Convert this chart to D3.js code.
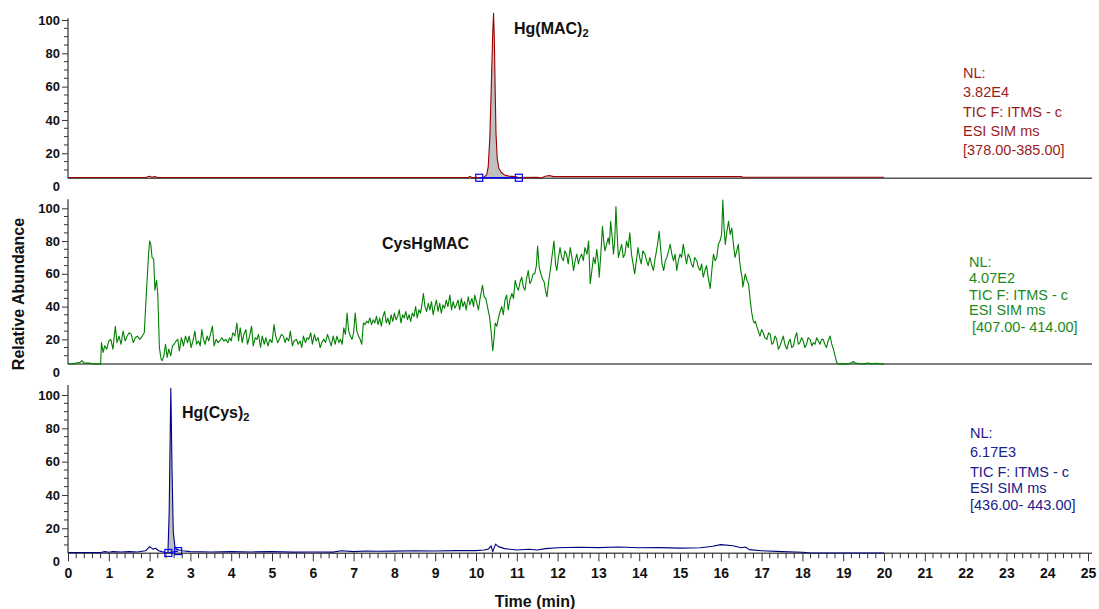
<!DOCTYPE html>
<html>
<head>
<meta charset="utf-8">
<script src="https://cdn.jsdelivr.net/npm/d3@7"></script>
<style>
  body { margin: 0; background: #fff; }
  text { font-family: "Liberation Sans", Arial, sans-serif; }
</style>
</head>
<body>
<script>
'use strict';

// time axis
const timeTicks = d3.range(0, 26);
const yTickLabels = [0, 20, 40, 60, 80, 100];

// panel 1: Hg(MAC)2, m/z 378-385  [time, relative abundance]
const hgMacTrace = [
  [0, 5.5], [1.9, 5.5], [2.0, 6.2], [2.06, 5.6], [2.12, 6.0], [2.2, 5.5], [9.8, 5.5], [9.85, 6.0],
  [9.9, 5.4], [10.0, 5.5], [10.08, 5.3], [10.2, 5.8], [10.26, 7], [10.3, 12], [10.34, 30],
  [10.38, 65], [10.41, 92], [10.43, 104], [10.45, 88], [10.47, 58], [10.49, 32], [10.52, 17],
  [10.56, 11], [10.62, 8.5], [10.7, 7], [10.8, 6.3], [10.95, 6], [11.05, 5.5], [11.5, 5.6],
  [11.6, 5.2], [11.7, 6.2], [11.8, 6.6], [11.9, 6.0], [12.0, 6.0], [16.5, 6.0], [16.55, 5.6], [20, 5.6]
];
const hgMacPeak = [[10.08, 5.3], [11.05, 5.3]];
const hgMacInfo = ["NL:", "3.82E4", "TIC F: ITMS - c", "ESI SIM ms", "[378.00-385.00]"];

// panel 2: CysHgMAC, m/z 407-414
const cysHgMacTrace = [
  [0, 5], [0.1, 5], [0.2, 5.5], [0.3, 6], [0.34, 7], [0.4, 5.5], [0.5, 5.5], [0.6, 5.2], [0.7, 5], [0.8, 5],
  [0.82, 18], [0.86, 12], [0.9, 16], [0.95, 14], [1.0, 19], [1.05, 20], [1.1, 14], [1.16, 28], [1.2, 18],
  [1.25, 22], [1.3, 17], [1.35, 25], [1.4, 19], [1.45, 22], [1.5, 24], [1.55, 23], [1.6, 18], [1.65, 21],
  [1.7, 22], [1.76, 20], [1.82, 22], [1.87, 24], [1.92, 48], [1.97, 70], [2.0, 80], [2.03, 78], [2.06, 70],
  [2.1, 69], [2.13, 50], [2.17, 56], [2.2, 48], [2.24, 15], [2.28, 8], [2.31, 7], [2.35, 10], [2.39, 17],
  [2.43, 9], [2.47, 14], [2.52, 10], [2.56, 16], [2.6, 17], [2.65, 19], [2.69, 20], [2.73, 13], [2.78, 21],
  [2.83, 16], [2.88, 22], [2.93, 18], [2.97, 22], [3.02, 15], [3.07, 20], [3.11, 25], [3.15, 17], [3.2, 19],
  [3.24, 16], [3.28, 26], [3.32, 20], [3.36, 17], [3.41, 22], [3.45, 19], [3.5, 24], [3.54, 28], [3.58, 16],
  [3.63, 20], [3.68, 18], [3.72, 19], [3.77, 21], [3.82, 19], [3.87, 20], [3.92, 18], [3.96, 21], [4.0, 19],
  [4.04, 24], [4.09, 22], [4.14, 30], [4.18, 19], [4.22, 27], [4.27, 18], [4.31, 23], [4.36, 26], [4.4, 17],
  [4.45, 22], [4.5, 28], [4.54, 16], [4.59, 21], [4.63, 20], [4.67, 23], [4.72, 15], [4.76, 22], [4.81, 17],
  [4.85, 21], [4.9, 16], [4.95, 20], [5.0, 18], [5.05, 29], [5.09, 22], [5.14, 18], [5.18, 20], [5.23, 23],
  [5.28, 22], [5.32, 18], [5.36, 21], [5.41, 19], [5.45, 25], [5.5, 16], [5.54, 19], [5.6, 20], [5.64, 17],
  [5.69, 19], [5.73, 15], [5.77, 22], [5.82, 18], [5.86, 21], [5.9, 20], [5.95, 24], [5.99, 17], [6.04, 23],
  [6.08, 19], [6.13, 21], [6.18, 15], [6.22, 18], [6.27, 20], [6.31, 18], [6.36, 23], [6.4, 20], [6.45, 16],
  [6.5, 22], [6.55, 17], [6.59, 22], [6.64, 18], [6.68, 20], [6.72, 17], [6.76, 27], [6.8, 23], [6.84, 36],
  [6.88, 25], [6.92, 22], [6.96, 20], [7.0, 24], [7.04, 36], [7.08, 25], [7.12, 22], [7.16, 20], [7.2, 17],
  [7.24, 30], [7.28, 29], [7.32, 31], [7.36, 30], [7.4, 33], [7.44, 29], [7.48, 32], [7.52, 30], [7.56, 34],
  [7.6, 29], [7.64, 33], [7.68, 28], [7.72, 34], [7.76, 37], [7.8, 30], [7.84, 33], [7.88, 29], [7.92, 35],
  [7.96, 31], [8.0, 36], [8.04, 32], [8.08, 34], [8.12, 38], [8.16, 30], [8.2, 35], [8.24, 33], [8.28, 37],
  [8.32, 32], [8.36, 35], [8.4, 31], [8.44, 36], [8.48, 34], [8.52, 40], [8.56, 33], [8.6, 38], [8.64, 36],
  [8.68, 42], [8.71, 48], [8.75, 40], [8.79, 37], [8.83, 42], [8.87, 38], [8.91, 43], [8.95, 35], [8.99, 40],
  [9.03, 44], [9.07, 37], [9.11, 42], [9.15, 36], [9.19, 41], [9.23, 39], [9.27, 44], [9.31, 40], [9.36, 47],
  [9.4, 38], [9.44, 43], [9.48, 39], [9.52, 41], [9.56, 44], [9.6, 38], [9.64, 45], [9.68, 40], [9.72, 43],
  [9.76, 38], [9.81, 46], [9.85, 41], [9.9, 45], [9.94, 40], [9.97, 47], [10.02, 42], [10.06, 38], [10.1, 45],
  [10.16, 53], [10.2, 46], [10.24, 45], [10.28, 40], [10.33, 34], [10.37, 25], [10.41, 13], [10.44, 20],
  [10.47, 30], [10.51, 28], [10.55, 33], [10.59, 37], [10.63, 40], [10.67, 35], [10.71, 44], [10.75, 47],
  [10.79, 38], [10.83, 44], [10.88, 48], [10.92, 45], [10.96, 56], [11.0, 52], [11.04, 50], [11.08, 55],
  [11.12, 58], [11.16, 52], [11.2, 50], [11.24, 57], [11.28, 62], [11.32, 54], [11.36, 56], [11.4, 60],
  [11.44, 60], [11.48, 65], [11.51, 77], [11.55, 64], [11.59, 60], [11.63, 57], [11.67, 55], [11.71, 49],
  [11.74, 46], [11.78, 55], [11.82, 62], [11.86, 70], [11.91, 80], [11.95, 66], [11.98, 62], [12.02, 70],
  [12.06, 76], [12.1, 70], [12.14, 68], [12.18, 74], [12.22, 72], [12.26, 66], [12.31, 76], [12.35, 70],
  [12.39, 62], [12.43, 68], [12.47, 72], [12.51, 66], [12.55, 70], [12.59, 72], [12.63, 68], [12.67, 76],
  [12.72, 72], [12.76, 80], [12.8, 54], [12.84, 62], [12.88, 70], [12.92, 66], [12.96, 75], [13.0, 66],
  [13.02, 58], [13.06, 72], [13.1, 89], [13.13, 80], [13.16, 74], [13.2, 78], [13.24, 82], [13.27, 78],
  [13.3, 92], [13.34, 82], [13.37, 72], [13.4, 80], [13.43, 101], [13.46, 84], [13.49, 70], [13.53, 74],
  [13.57, 78], [13.61, 70], [13.65, 72], [13.69, 80], [13.73, 76], [13.77, 85], [13.81, 72], [13.85, 66],
  [13.89, 60], [13.93, 68], [13.97, 76], [14.01, 70], [14.05, 66], [14.09, 74], [14.14, 72], [14.18, 68],
  [14.22, 65], [14.26, 70], [14.3, 66], [14.35, 62], [14.38, 68], [14.41, 72], [14.45, 78], [14.49, 86],
  [14.53, 74], [14.56, 66], [14.6, 62], [14.64, 68], [14.68, 70], [14.72, 74], [14.76, 78], [14.8, 72],
  [14.84, 68], [14.88, 72], [14.92, 62], [14.96, 68], [15.0, 72], [15.04, 70], [15.08, 78], [15.12, 72],
  [15.16, 66], [15.2, 72], [15.24, 70], [15.28, 66], [15.32, 64], [15.36, 70], [15.41, 68], [15.45, 64],
  [15.49, 62], [15.53, 66], [15.57, 58], [15.61, 62], [15.65, 65], [15.69, 58], [15.74, 51], [15.78, 62],
  [15.82, 72], [15.86, 68], [15.9, 70], [15.94, 78], [15.98, 80], [16.02, 84], [16.05, 105], [16.08, 88],
  [16.11, 78], [16.15, 86], [16.19, 92], [16.23, 84], [16.27, 88], [16.31, 78], [16.35, 70], [16.39, 74],
  [16.43, 78], [16.46, 68], [16.49, 62], [16.52, 58], [16.54, 52], [16.57, 56], [16.6, 60], [16.64, 56],
  [16.68, 54], [16.72, 44], [16.76, 36], [16.79, 32], [16.82, 30], [16.85, 31], [16.88, 28], [16.92, 25],
  [16.96, 22], [17.0, 26], [17.04, 24], [17.08, 21], [17.13, 20], [17.17, 24], [17.21, 23], [17.25, 17],
  [17.29, 18], [17.33, 22], [17.37, 20], [17.41, 14], [17.45, 16], [17.49, 19], [17.53, 22], [17.57, 17],
  [17.62, 14], [17.66, 18], [17.7, 20], [17.74, 15], [17.78, 16], [17.82, 21], [17.86, 24], [17.9, 17],
  [17.94, 18], [17.98, 21], [18.02, 19], [18.06, 15], [18.1, 17], [18.14, 21], [18.19, 20], [18.23, 16],
  [18.27, 18], [18.31, 17], [18.35, 21], [18.39, 19], [18.43, 17], [18.47, 20], [18.51, 20], [18.55, 17],
  [18.59, 15], [18.63, 19], [18.68, 22], [18.72, 17], [18.76, 14], [18.8, 10], [18.84, 6], [18.88, 5],
  [19.0, 5.2], [19.1, 5], [19.2, 5.5], [19.25, 6.5], [19.3, 5.5], [19.4, 5.2], [19.5, 5], [19.6, 5.5],
  [19.7, 5], [19.8, 5.3], [19.9, 5], [20.0, 5]
];
const cysHgMacInfo = ["NL:", "4.07E2", "TIC F: ITMS - c", "ESI SIM ms", "[407.00- 414.00]"];

// panel 3: Hg(Cys)2, m/z 436-443
const hgCysTrace = [
  [0, 5.5], [0.8, 5.5], [0.9, 6], [1.0, 5.6], [1.1, 6], [1.3, 5.8], [1.5, 6], [1.7, 5.8], [1.9, 6.5],
  [2.0, 9], [2.08, 7.5], [2.15, 8], [2.22, 6.5], [2.3, 6], [2.4, 5.5], [2.45, 5.6], [2.48, 30], [2.52, 104],
  [2.55, 55], [2.58, 18], [2.62, 9], [2.66, 7.5], [2.72, 7], [2.8, 6.5], [3.0, 6], [3.5, 5.8], [4.0, 6],
  [4.5, 5.8], [5.0, 6], [5.5, 5.7], [6.0, 5.8], [6.5, 5.7], [6.7, 6.5], [7.0, 6], [7.3, 6.4], [7.6, 6.2],
  [8.0, 6.3], [8.5, 6.5], [9.0, 6.4], [9.5, 6.6], [10.0, 6.6], [10.2, 7], [10.3, 7.5], [10.37, 9.5],
  [10.41, 6], [10.48, 10.5], [10.55, 9], [10.7, 7.8], [11.0, 7], [11.3, 7.4], [11.5, 7], [11.7, 7.8],
  [12.0, 8.3], [12.5, 8.6], [13.0, 8.4], [13.5, 8.8], [14.0, 8.3], [14.5, 8.4], [15.0, 8.1], [15.5, 8.3],
  [15.8, 9.2], [16.0, 10.2], [16.3, 9.5], [16.5, 8.3], [16.6, 8.8], [16.7, 7.2], [17.0, 6.5], [17.5, 6],
  [18.0, 5.6], [18.2, 5.2], [20.0, 5.2]
];
const hgCysPeak = [[2.46, 5.2], [2.70, 6.3]];
const hgCysInfo = ["NL:", "6.17E3", "TIC F: ITMS - c", "ESI SIM ms", "[436.00- 443.00]"];

(function() {

  let svgContainer = "";
  const xScale = d3.scaleLinear().domain([0, 25]).range([68, 1088]);

  // one entry per stacked chromatogram
  const panels = [
    { trace: hgMacTrace, peak: hgMacPeak, info: hgMacInfo, color: "#990000", textColor: "#9a1c1c",
      top: 20, bottom: 186.6, axisTop: 101, infoX: 963, lastX: 963, infoY: [78, 97, 117, 136, 155],
      name: "Hg(MAC)", sub: "2", nameX: 514, nameY: 34 },
    { trace: cysHgMacTrace, peak: null, info: cysHgMacInfo, color: "#008000", textColor: "#1b8a1b",
      top: 208.3, bottom: 372.1, axisTop: 105.5, infoX: 969, lastX: 972, infoY: [267, 283, 300, 315, 332],
      name: "CysHgMAC", sub: "", nameX: 382, nameY: 249 },
    { trace: hgCysTrace, peak: hgCysPeak, info: hgCysInfo, color: "#000080", textColor: "#20208c",
      top: 395, bottom: 561.6, axisTop: 106, infoX: 970, lastX: 970, infoY: [438, 457, 477, 493, 510],
      name: "Hg(Cys)", sub: "2", nameX: 182, nameY: 418 }
  ];

  svgContainer = d3.select('body')
    .append('svg')
    .attr('width', 1099)
    .attr('height', 609);

  panels.forEach((p, i) => drawPanel(p, i === panels.length - 1));
  makeLabels();

  // draw one chromatogram with its y axis and labels
  function drawPanel(p, isLast) {
    let yScale = d3.scaleLinear().domain([0, 100]).range([p.bottom, p.top]);
    let g = svgContainer.append('g');
    let baseY = yScale(5);

    // shaded integrated peak
    if (p.peak) {
      let t0 = p.peak[0][0], t1 = p.peak[1][0];
      let baseAt = (t) => p.peak[0][1] + (p.peak[1][1] - p.peak[0][1]) * (t - t0) / (t1 - t0);
      let inside = p.trace.filter((d) => d[0] > t0 && d[0] < t1);
      let pts = [p.peak[0]].concat(inside, [p.peak[1]]);
      g.append('path')
        .datum(pts)
        .attr('fill', '#c0c0c0')
        .attr('d', d3.area()
          .x((d) => xScale(d[0]))
          .y0((d) => yScale(baseAt(d[0])))
          .y1((d) => yScale(Math.max(d[1], baseAt(d[0])))));
    }

    // horizontal baseline of the panel
    g.append('line')
      .attr('x1', 68).attr('x2', 1092)
      .attr('y1', baseY).attr('y2', baseY)
      .attr('stroke', '#555')
      .attr('stroke-width', 1.5);

    // trace
    g.append('path')
      .datum(p.trace)
      .attr('fill', 'none')
      .attr('stroke', p.color)
      .attr('stroke-width', 1.1)
      .attr('stroke-linejoin', 'round')
      .attr('d', d3.line().x((d) => xScale(d[0])).y((d) => yScale(d[1])));

    // peak start/end markers
    if (p.peak) {
      g.append('line')
        .attr('x1', xScale(p.peak[0][0])).attr('y1', yScale(p.peak[0][1]))
        .attr('x2', xScale(p.peak[1][0])).attr('y2', yScale(p.peak[1][1]))
        .attr('stroke', '#0000ff').attr('stroke-width', 1.3);
      g.selectAll('.marker')
        .data(p.peak)
        .enter()
        .append('rect')
          .attr('x', (d) => xScale(d[0]) - 3.5)
          .attr('y', (d) => yScale(d[1]) - 3.5)
          .attr('width', 7).attr('height', 7)
          .attr('fill', 'none')
          .attr('stroke', '#0000ff')
          .attr('stroke-width', 1.2);
    }

    // y axis: major ticks with labels, minor ticks every 5
    let yAxis = d3.axisLeft(yScale)
      .tickValues(yTickLabels)
      .tickSize(6)
      .tickPadding(2)
      .tickFormat(d3.format('d'));
    let ya = g.append('g')
      .attr('transform', 'translate(68, 0)')
      .call(yAxis);
    ya.select('.domain').remove();
    ya.selectAll('.tick').filter((d) => d === 0).select('line').remove();
    ya.selectAll('text')
      .style('font-size', '13px')
      .style('font-weight', 'bold')
      .attr('fill', '#111');
    ya.selectAll('line').attr('stroke', '#333');

    let minor = d3.range(10, 100, 5).filter((v) => v % 20 !== 0);
    g.selectAll('.minor')
      .data(minor)
      .enter()
      .append('line')
        .attr('x1', 64).attr('x2', 68)
        .attr('y1', (d) => yScale(d)).attr('y2', (d) => yScale(d))
        .attr('stroke', '#333');

    g.append('line')
      .attr('x1', 68).attr('x2', 68)
      .attr('y1', yScale(p.axisTop)).attr('y2', baseY)
      .attr('stroke', '#333')
      .attr('stroke-width', 1.2);

    // compound name
    let name = g.append('text')
      .attr('x', p.nameX)
      .attr('y', p.nameY)
      .style('font-size', '16px')
      .style('font-weight', 'bold')
      .attr('fill', '#111')
      .text(p.name);
    if (p.sub) {
      name.append('tspan')
        .attr('dy', 3)
        .style('font-size', '11px')
        .text(p.sub);
    }

    // scan info at the right
    g.selectAll('.info')
      .data(p.info)
      .enter()
      .append('text')
        .attr('x', (d, k) => k === p.info.length - 1 ? p.lastX : p.infoX)
        .attr('y', (d, k) => p.infoY[k])
        .attr('fill', p.textColor)
        .style('font-size', '14.5px')
        .text((d) => d);

    if (isLast) drawTimeAxis(baseY);
  }

  // bottom time axis with minor ticks every 0.2 min
  function drawTimeAxis(y) {
    let xAxis = d3.axisBottom(xScale)
      .tickValues(timeTicks)
      .tickSize(8)
      .tickPadding(7)
      .tickFormat(d3.format('d'));
    let xa = svgContainer.append('g')
      .attr('transform', 'translate(0,' + y + ')')
      .call(xAxis);
    xa.select('.domain').remove();
    xa.selectAll('line').attr('stroke', '#333');
    xa.selectAll('text')
      .style('font-size', '14px')
      .style('font-weight', 'bold')
      .attr('fill', '#111');

    // skip the whole minutes, they already have a major tick
    let minor = d3.range(0, 125).filter((k) => k % 5 !== 0).map((k) => k / 5);
    svgContainer.selectAll('.xminor')
      .data(minor)
      .enter()
      .append('line')
        .attr('x1', (d) => xScale(d)).attr('x2', (d) => xScale(d))
        .attr('y1', y).attr('y2', y + 5)
        .attr('stroke', '#333');
  }

  // axis titles
  function makeLabels() {
    svgContainer.append('text')
      .attr('x', 535)
      .attr('y', 607)
      .attr('text-anchor', 'middle')
      .style('font-size', '16px')
      .style('font-weight', 'bold')
      .attr('fill', '#111')
      .text('Time (min)');

    svgContainer.append('text')
      .attr('transform', 'translate(24, 294)rotate(-90)')
      .attr('text-anchor', 'middle')
      .style('font-size', '16px')
      .style('font-weight', 'bold')
      .attr('fill', '#111')
      .text('Relative Abundance');
  }

})();
</script>
</body>
</html>
